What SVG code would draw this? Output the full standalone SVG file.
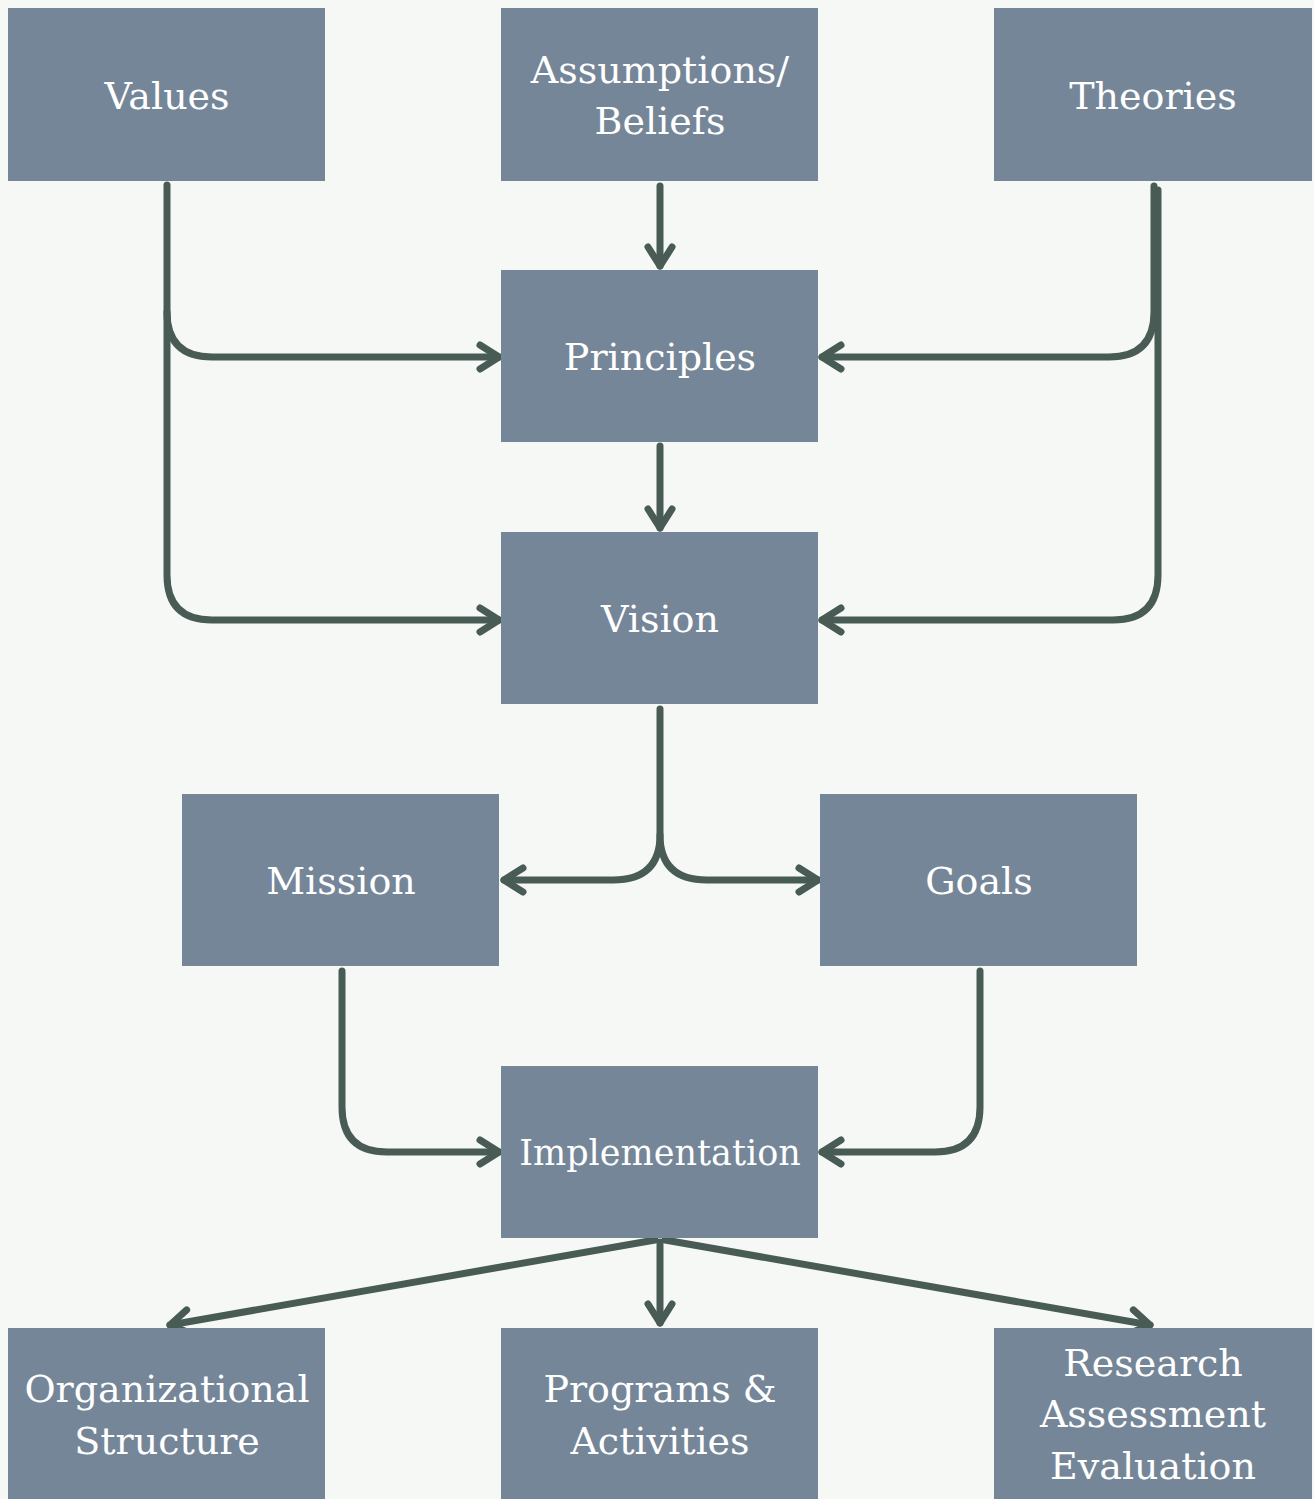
<svg xmlns="http://www.w3.org/2000/svg" width="1314" height="1499" viewBox="0 0 1314 1499">
<style>
.box{fill:#758698}
.lbl{font-family:"DejaVu Serif","Liberation Serif",serif;font-size:38px;fill:#ffffff;text-anchor:middle}
.c{fill:none;stroke:#485b55;stroke-width:7;stroke-linecap:round;stroke-linejoin:round}
</style>
<defs>
<marker id="ah" markerUnits="userSpaceOnUse" viewBox="-30 -20 40 40" markerWidth="40" markerHeight="40" refX="0" refY="0" orient="auto" overflow="visible">
<path d="M-19,-12 L0,0 L-19,12" fill="none" stroke="#485b55" stroke-width="7" stroke-linecap="round" stroke-linejoin="round"/>
</marker>
</defs>
<rect width="1314" height="1499" fill="#f6f8f6"/>
<g id="connectors">
<path class="c" d="M167,185 V312 Q167,357 212,357 H499" marker-end="url(#ah)"/>
<path class="c" d="M167,312 V575 Q167,620 212,620 H499" marker-end="url(#ah)"/>
<path class="c" d="M660,186 V266" marker-end="url(#ah)"/>
<path class="c" d="M1154,186 V312 Q1154,357 1109,357 H822" marker-end="url(#ah)"/>
<path class="c" d="M1158,190 V575 Q1158,620 1113,620 H822" marker-end="url(#ah)"/>
<path class="c" d="M660,446 V528" marker-end="url(#ah)"/>
<path class="c" d="M660,709 V835 Q660,880 613,880 H504" marker-end="url(#ah)"/>
<path class="c" d="M660,835 Q660,880 707,880 H818" marker-end="url(#ah)"/>
<path class="c" d="M342,971 V1107 Q342,1152 387,1152 H499" marker-end="url(#ah)"/>
<path class="c" d="M980,971 V1107 Q980,1152 935,1152 H822" marker-end="url(#ah)"/>
<path class="c" d="M655,1240 L170,1325" marker-end="url(#ah)"/>
<path class="c" d="M660,1242 V1323" marker-end="url(#ah)"/>
<path class="c" d="M665,1240 L1150,1325" marker-end="url(#ah)"/>
</g>
<g id="values"><rect class="box" x="8" y="8" width="317" height="173"/><text class="lbl" x="167" y="109">Values</text></g>
<g id="assumptions"><rect class="box" x="501" y="8" width="317" height="173"/><text class="lbl" x="660" y="83">Assumptions/</text><text class="lbl" x="660" y="134">Beliefs</text></g>
<g id="theories"><rect class="box" x="994" y="8" width="318" height="173"/><text class="lbl" x="1153" y="109">Theories</text></g>
<g id="principles"><rect class="box" x="501" y="270" width="317" height="172"/><text class="lbl" x="660" y="370">Principles</text></g>
<g id="vision"><rect class="box" x="501" y="532" width="317" height="172"/><text class="lbl" x="660" y="632">Vision</text></g>
<g id="mission"><rect class="box" x="182" y="794" width="317" height="172"/><text class="lbl" x="341" y="894">Mission</text></g>
<g id="goals"><rect class="box" x="820" y="794" width="317" height="172"/><text class="lbl" x="979" y="894">Goals</text></g>
<g id="implementation"><rect class="box" x="501" y="1066" width="317" height="172"/><text class="lbl" x="660" y="1165" style="font-size:35px">Implementation</text></g>
<g id="organizational"><rect class="box" x="8" y="1328" width="317" height="171"/><text class="lbl" x="167" y="1402">Organizational</text><text class="lbl" x="167" y="1454">Structure</text></g>
<g id="programs"><rect class="box" x="501" y="1328" width="317" height="171"/><text class="lbl" x="660" y="1402">Programs &amp;</text><text class="lbl" x="660" y="1454">Activities</text></g>
<g id="research"><rect class="box" x="994" y="1328" width="318" height="171"/><text class="lbl" x="1153" y="1376">Research</text><text class="lbl" x="1153" y="1427">Assessment</text><text class="lbl" x="1153" y="1479">Evaluation</text></g>
</svg>
